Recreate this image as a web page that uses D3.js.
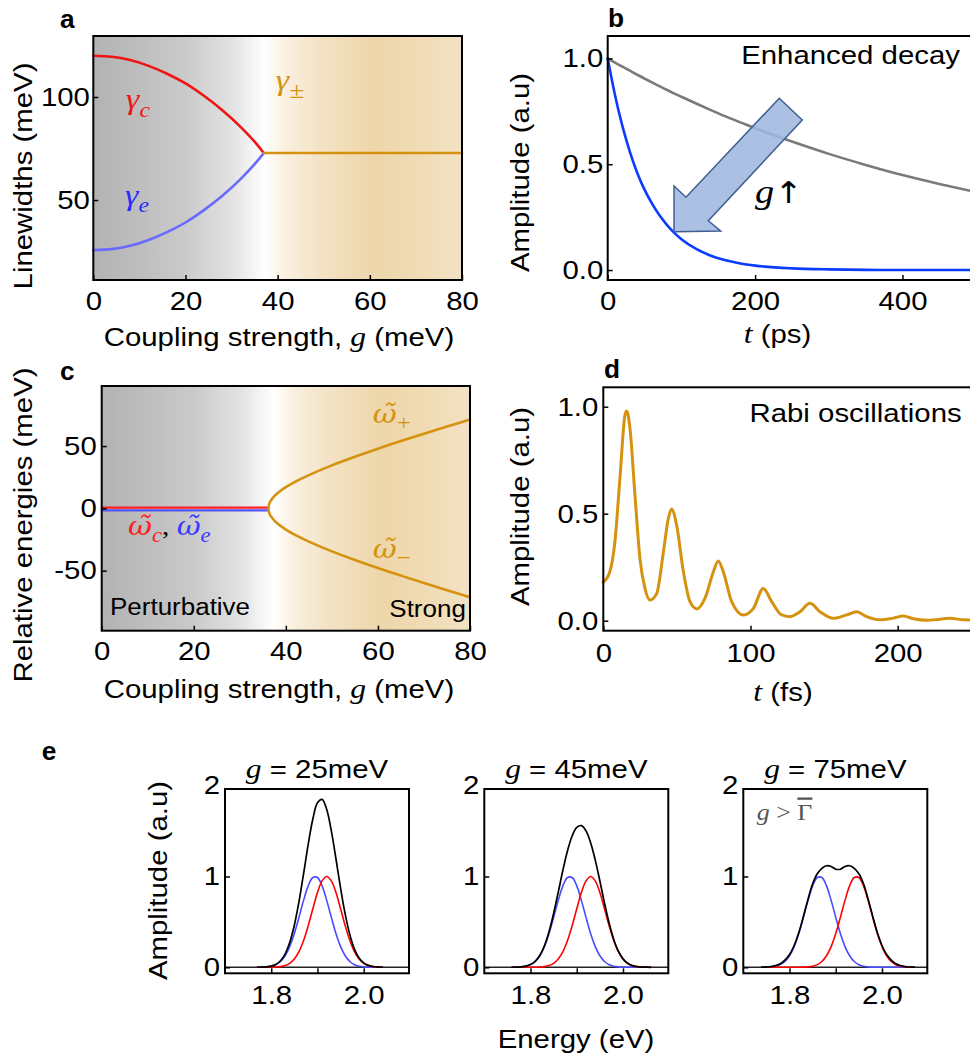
<!DOCTYPE html>
<html>
<head>
<meta charset="utf-8">
<script src="https://cdn.jsdelivr.net/npm/d3@7/dist/d3.min.js"></script>
<style>
html,body{margin:0;padding:0;background:#fff;}
svg{display:block;}
</style>
</head>
<body>
<svg id="fig" width="970" height="1060" xmlns="http://www.w3.org/2000/svg"></svg>
<script>
// ---------------- DATA ----------------
// Panel a: linewidths (meV) vs coupling strength g (meV)
const aGSplit   = [0, 4, 8, 12, 16, 20, 24, 28, 32, 35, 37];
const aGammaC   = [120, 119.5, 117.9, 115.1, 111.3, 106.6, 100.6, 93.6, 85.4, 78.3, 72.8];
const aGammaE   = [25.7, 26.2, 27.8, 30.6, 34.4, 39.1, 45.1, 52.1, 60.3, 67.4, 72.8];
const aGMerged  = [37, 80];
const aGammaPM  = [72.8, 72.8];
const aXTicks = [0, 20, 40, 60, 80];
const aYTicks = [50, 100];

// Panel b: enhanced decay, t (ps)
const bT       = [0, 10, 20, 30, 40, 50, 60, 70, 80, 90, 100, 120, 140, 160, 180, 200, 250, 300, 350, 400, 450, 500];
const bBare    = [1, 0.980, 0.961, 0.942, 0.923, 0.905, 0.887, 0.869, 0.852, 0.835, 0.819, 0.787, 0.756, 0.726, 0.698, 0.670, 0.607, 0.549, 0.497, 0.449, 0.407, 0.368];
const bCoupled = [1, 0.825, 0.68, 0.56, 0.46, 0.38, 0.315, 0.26, 0.215, 0.177, 0.146, 0.10, 0.068, 0.046, 0.031, 0.021, 0.008, 0.003, 0.001, 0, 0, 0];
const bArrowT  = [90, 90, 106.2, 232.8, 264, 136.5, 153.3];
const bArrowA  = [0.181, 0.397, 0.344, 0.812, 0.709, 0.233, 0.184];
const bXTicks = [0, 200, 400];
const bYTicks = [0, 0.5, 1.0];

// Panel c: relative energies (meV) vs g (meV)
const cGUnc     = [0, 36.2];
const cOmegaC   = [0.6, 0.6];
const cOmegaE   = [-1.6, -1.6];
const cGBranch  = [36.2, 36.5, 37, 37.5, 38, 39, 40, 42, 45, 50, 55, 60, 65, 70, 75, 80];
const cOmegaPlus  = [0, 4.7, 7.6, 9.8, 11.6, 14.5, 17, 21.3, 26.7, 34.5, 41.4, 47.9, 54, 59.9, 65.7, 71.3];
const cOmegaMinus = [0, -4.7, -7.6, -9.8, -11.6, -14.5, -17, -21.3, -26.7, -34.5, -41.4, -47.9, -54, -59.9, -65.7, -71.3];
const cXTicks = [0, 20, 40, 60, 80];
const cYTicks = [-50, 0, 50];

// Panel d: Rabi oscillations, t (fs)
const dT   = [0, 4.5, 7.9, 11.3, 14.7, 15.9, 18.1, 21.5, 24.9, 28.3, 31.7, 36.3, 40.8, 44.2, 46.4, 49.8, 54.4, 58.9, 63.6, 69.1, 74.8, 78.1, 81.5, 87.2, 95.1, 102, 108.7, 114.4, 121.2, 126.8, 133.6, 140.4, 147.2, 156.3, 165.3, 172.1, 178.9, 188, 197, 203.8, 210.6, 219.7, 228.8, 235.5, 244.6, 250];
const dAmp = [0.18, 0.23, 0.37, 0.665, 0.96, 0.98, 0.90, 0.587, 0.29, 0.151, 0.097, 0.128, 0.32, 0.478, 0.522, 0.447, 0.229, 0.089, 0.055, 0.105, 0.229, 0.279, 0.229, 0.089, 0.027, 0.058, 0.151, 0.089, 0.027, 0.019, 0.042, 0.081, 0.042, 0.011, 0.027, 0.042, 0.019, 0.004, 0.012, 0.022, 0.009, 0.002, 0.007, 0.011, 0.004, 0.003];
const dXTicks = [0, 100, 200];
const dYTicks = [0, 0.5, 1.0];

// Panel e: spectra, Energy (eV)
const eTitles = ["25meV", "45meV", "75meV"];
const eE1 = [1.77,1.78,1.79,1.80,1.81,1.82,1.83,1.84,1.85,1.86,1.87,1.88,1.89,1.90,1.91,1.92,1.93,1.94,1.95,1.96,1.97,1.98,1.99,2.00,2.01,2.02,2.03,2.04];
const eBlue1  = [0.0005,0.0016,0.0046,0.0122,0.0294,0.0641,0.127,0.228,0.372,0.550,0.737,0.896,0.988,0.988,0.896,0.737,0.550,0.372,0.228,0.127,0.064,0.029,0.012,0.005,0.002,0.001,0,0];
const eRed1   = [0,0.0001,0.0003,0.0009,0.0027,0.0076,0.0192,0.0439,0.0914,0.172,0.295,0.458,0.644,0.823,0.952,1,0.952,0.823,0.644,0.458,0.295,0.172,0.0914,0.0439,0.0192,0.0076,0.0027,0.0009];
const eBlack1 = [0.0005,0.0017,0.0049,0.0131,0.0321,0.0717,0.146,0.272,0.463,0.722,1.032,1.354,1.632,1.811,1.848,1.737,1.502,1.195,0.872,0.585,0.359,0.201,0.103,0.049,0.021,0.0086,0.0027,0.0009];
const eE2 = [1.76,1.77,1.78,1.79,1.80,1.81,1.82,1.83,1.84,1.85,1.86,1.87,1.88,1.89,1.90,1.91,1.92,1.93,1.94,1.95,1.96,1.97,1.98,1.99,2.00,2.01,2.02,2.03,2.04,2.05,2.06];
const eBlue2  = [0.0005,0.0016,0.0046,0.0122,0.0294,0.0641,0.127,0.228,0.372,0.550,0.737,0.896,0.988,0.988,0.896,0.737,0.550,0.372,0.228,0.127,0.064,0.029,0.012,0.005,0.002,0.0005,0,0,0,0,0];
const eRed2   = [0,0,0,0.0001,0.0003,0.0009,0.0027,0.0076,0.0192,0.0439,0.0914,0.172,0.295,0.458,0.644,0.823,0.952,1,0.952,0.823,0.644,0.458,0.295,0.172,0.0914,0.0439,0.0192,0.0076,0.0027,0.0009,0.0003];
const eBlack2 = [0.0005,0.0016,0.0046,0.0123,0.0297,0.065,0.130,0.236,0.391,0.594,0.828,1.068,1.283,1.446,1.540,1.560,1.502,1.372,1.180,0.950,0.708,0.487,0.307,0.177,0.093,0.044,0.019,0.0076,0.0027,0.0009,0.0003];
const eE3 = [1.74,1.75,1.76,1.77,1.78,1.79,1.80,1.81,1.82,1.83,1.84,1.85,1.86,1.87,1.88,1.89,1.90,1.91,1.92,1.93,1.94,1.95,1.96,1.97,1.98,1.99,2.00,2.01,2.02,2.03,2.04,2.05,2.06,2.07];
const eBlue3  = [0.0005,0.0016,0.0046,0.0122,0.0294,0.0641,0.127,0.228,0.372,0.550,0.737,0.896,0.988,0.988,0.896,0.737,0.550,0.372,0.228,0.127,0.064,0.029,0.012,0.005,0.002,0.0005,0,0,0,0,0,0,0,0];
const eRed3   = [0,0,0,0,0,0,0,0,0.0005,0.0016,0.0046,0.0122,0.0294,0.064,0.127,0.228,0.372,0.550,0.737,0.896,0.988,0.988,0.896,0.737,0.550,0.372,0.228,0.127,0.064,0.029,0.012,0.005,0.002,0.0005];
const eBlack3 = [0.001,0.003,0.008,0.02,0.04,0.08,0.14,0.24,0.38,0.56,0.75,0.92,1.03,1.09,1.118,1.11,1.08,1.08,1.11,1.118,1.09,1.03,0.92,0.75,0.56,0.38,0.24,0.14,0.08,0.04,0.02,0.008,0.003,0.001];
const eXTicks = [1.8, 1.9, 2.0];
const eYTicks = [0, 1, 2];

// background shading stops (perturbative -> strong)
const bgStops = [[0,"#b2b2b2"],[0.25,"#cacaca"],[0.38,"#e3e3e3"],[0.465,"#ffffff"],[0.52,"#faf0e0"],[0.62,"#f3e2c4"],[0.76,"#eed6aa"],[0.88,"#f0dbb4"],[1,"#f2e2c5"]];

// ---------------- STYLE / HELPERS ----------------
const SX = 1.13;
const SANS = '"Liberation Sans", Arial, Helvetica, sans-serif';
const SERIF = '"Liberation Serif", "Times New Roman", serif';
const MATH = '"DejaVu Serif", "Liberation Serif", serif';
const GOLD = "#d4920f";
const svg = d3.select("#fig");
const defs = svg.append("defs");

function makeGrad(id, stops){
  const g = defs.append("linearGradient").attr("id", id).attr("x1",0).attr("x2",1).attr("y1",0).attr("y2",0);
  stops.forEach(s => g.append("stop").attr("offset", s[0]).attr("stop-color", s[1]));
}
function T(x, y, o = {}){
  let tr = `translate(${x},${y})`;
  if (o.rot) tr += ` rotate(${o.rot})`;
  tr += ` scale(${o.sx || SX},1)`;
  return svg.append("text").attr("transform", tr).attr("text-anchor", o.anchor || "start")
    .style("font-family", o.family || SANS).style("font-size", (o.size || 26) + "px")
    .style("font-weight", o.weight || "normal").style("font-style", o.style || "normal")
    .attr("fill", o.fill || "#000");
}
function span(t, s, o = {}){
  const ts = t.append("tspan").text(s);
  if (o.family) ts.style("font-family", o.family);
  if (o.style) ts.style("font-style", o.style);
  if (o.size) ts.style("font-size", o.size + "px");
  if (o.fill) ts.attr("fill", o.fill);
  if (o.dy != null) ts.attr("dy", o.dy);
  if (o.deco) ts.style("text-decoration", o.deco);
  return ts;
}
function frame(f){
  svg.append("rect").attr("x", f.l).attr("y", f.t).attr("width", f.r - f.l).attr("height", f.b - f.t)
    .attr("fill", "none").attr("stroke", "#000").attr("stroke-width", 2);
}
function styleAxis(g){
  g.attr("font-size", null).attr("font-family", null);
  g.select(".domain").remove();
  g.selectAll(".tick line").attr("stroke", "#000").attr("stroke-width", 1.5);
  g.selectAll(".tick text").attr("transform", `scale(${SX},1)`).attr("fill", "#000")
    .style("font-family", SANS).style("font-size", "26px");
  return g;
}
function axisB(scale, f, vals, fmt, pad){
  return styleAxis(svg.append("g").attr("transform", `translate(0,${f.b})`)
    .call(d3.axisBottom(scale).tickValues(vals).tickFormat(fmt).tickSizeInner(-5).tickSizeOuter(0).tickPadding(pad)));
}
function axisL(scale, f, vals, fmt, pad){
  return styleAxis(svg.append("g").attr("transform", `translate(${f.l},0)`)
    .call(d3.axisLeft(scale).tickValues(vals).tickFormat(fmt).tickSizeInner(-5).tickSizeOuter(0).tickPadding(pad)));
}
function path(pts, color, w, curve){
  return svg.append("path").attr("d", d3.line().curve(curve || d3.curveMonotoneX)(pts))
    .attr("fill", "none").attr("stroke", color).attr("stroke-width", w)
    .attr("stroke-linejoin", "round").attr("stroke-linecap", "round");
}
// ω with combining tilde + subscript, as one text
function omegaSpans(t, sub, col, subItalic){
  span(t, "ω\u0303", {fill: col, family: MATH, style: "italic", size: 26});
  span(t, sub, {fill: col, family: SERIF, size: subItalic ? 20 : 22, dy: 7, style: subItalic ? "italic" : "normal"});
}
makeGrad("bg", bgStops);

// ---------------- PANEL A ----------------
const fa = {l: 93.3, r: 462, t: 36, b: 280};
const xa = d3.scaleLinear([0, 80], [fa.l, fa.r]);
const ya = d3.scaleLinear([11.2, 129.6], [fa.b, fa.t]);
svg.append("rect").attr("x", fa.l).attr("y", fa.t).attr("width", fa.r - fa.l).attr("height", fa.b - fa.t).attr("fill", "url(#bg)");
path(aGSplit.map((g, i) => [xa(g), ya(aGammaC[i])]), "#f01414", 2.6);
path(aGSplit.map((g, i) => [xa(g), ya(aGammaE[i])]), "#6a6aff", 2.6);
path(aGMerged.map((g, i) => [xa(g), ya(aGammaPM[i])]), GOLD, 2.6, d3.curveLinear);
axisB(xa, fa, aXTicks, d3.format("d"), 11.5);
axisL(ya, fa, aYTicks, d3.format("d"), 3);
frame(fa);
{ const t = T(xa(7.1), ya(94.2), {family: SERIF, style: "italic", size: 30, fill: "#f01414"}); span(t, "γ"); span(t, "c", {size: 21, dy: 8}); }
{ const t = T(xa(6.9), ya(47.6), {family: SERIF, style: "italic", size: 30, fill: "#2a2aff"}); span(t, "γ"); span(t, "e", {size: 21, dy: 7}); }
{ const t = T(xa(39.6), ya(103.6), {family: SERIF, style: "italic", size: 30, fill: GOLD}); span(t, "γ"); span(t, "±", {size: 24, dy: 8, style: "normal"}); }
T(60, 28, {weight: "bold", size: 25, sx: 1.05}).text("a");
{ const t = T(279, 346, {anchor: "middle"}); span(t, "Coupling strength, "); span(t, "g", {family: SERIF, style: "italic", size: 28}); span(t, " (meV)"); }
T(32, 176, {rot: -90, anchor: "middle"}).text("Linewidths (meV)");

// ---------------- PANEL B ----------------
const fb = {l: 607.7, r: 976.2, t: 36, b: 280};
const xb = d3.scaleLinear([0, 500], [fb.l, fb.r]);
const yb = d3.scaleLinear([-0.047, 1.106], [fb.b, fb.t]);
path(bT.map((t, i) => [xb(t), yb(bBare[i])]), "#7a7a7a", 2.6);
path(bT.map((t, i) => [xb(t), yb(bCoupled[i])]), "#0a3cff", 2.6);
svg.append("path").attr("d", d3.line()(bArrowT.map((t, i) => [xb(t), yb(bArrowA[i])])) + "Z")
  .attr("fill", "#9fb7df").attr("fill-opacity", 0.88).attr("stroke", "#3f5f93").attr("stroke-width", 1.5).attr("stroke-linejoin", "miter");
{ const t = T(xb(199.9), yb(0.317), {family: SERIF, size: 34}); span(t, "g", {style: "italic"}); span(t, "↑", {family: '"DejaVu Sans", sans-serif', size: 30, dy: 0}); }
T(xb(478), yb(0.974), {anchor: "end", size: 26}).text("Enhanced decay");
axisB(xb, fb, bXTicks, d3.format("d"), 11.5);
axisL(yb, fb, bYTicks, d3.format(".1f"), 3.9);
frame(fb);
T(608, 26.7, {weight: "bold", size: 25, sx: 1.05}).text("b");
{ const t = T(777.5, 343, {anchor: "middle"}); span(t, "t", {family: SERIF, style: "italic", size: 28}); span(t, " (ps)"); }
T(528.5, 172.5, {rot: -90, anchor: "middle"}).text("Amplitude (a.u)");

// ---------------- PANEL C ----------------
const fc = {l: 101.7, r: 470, t: 386, b: 630.7};
const xc = d3.scaleLinear([0, 80], [fc.l, fc.r]);
const yc = d3.scaleLinear([-98.2, 98.2], [fc.b, fc.t]);
svg.append("rect").attr("x", fc.l).attr("y", fc.t).attr("width", fc.r - fc.l).attr("height", fc.b - fc.t).attr("fill", "url(#bg)");
path(cGUnc.map((g, i) => [xc(g), yc(cOmegaC[i])]), "#ff2020", 2.3, d3.curveLinear);
path(cGUnc.map((g, i) => [xc(g), yc(cOmegaE[i])]), "#5555ff", 2.3, d3.curveLinear);
{
  const lower = cGBranch.map((g, i) => [xc(g), yc(cOmegaMinus[i])]).reverse();
  const upper = cGBranch.slice(1).map((g, i) => [xc(g), yc(cOmegaPlus[i + 1])]);
  path(lower.concat(upper), GOLD, 2.6, d3.curveCatmullRom);
}
axisB(xc, fc, cXTicks, d => String(d), 10.8);
axisL(yc, fc, cYTicks, d => String(d), 4.4);
frame(fc);
{ const t = T(xc(58.9), yc(68.5), {fill: GOLD}); omegaSpans(t, "+", GOLD, false); }
{ const t = T(xc(58.9), yc(-39.9), {fill: GOLD}); omegaSpans(t, "−", GOLD, false); }
{
  const t = T(xc(5.7), yc(-21.4));
  omegaSpans(t, "c", "#ff2020", true);
  span(t, ", ", {family: SERIF, size: 26, dy: -7, fill: "#000"});
  omegaSpans(t, "e", "#3a3aff", true);
}
T(xc(1.8), yc(-85.6), {size: 23}).text("Perturbative");
T(xc(79.1), yc(-87.2), {size: 23, anchor: "end"}).text("Strong");
T(60, 380, {weight: "bold", size: 25, sx: 1.05}).text("c");
{ const t = T(279, 698, {anchor: "middle"}); span(t, "Coupling strength, "); span(t, "g", {family: SERIF, style: "italic", size: 28}); span(t, " (meV)"); }
T(32, 525, {rot: -90, anchor: "middle"}).text("Relative energies (meV)");

// ---------------- PANEL D ----------------
const fd = {l: 603.3, r: 971.3, t: 387.3, b: 630.7};
const xd = d3.scaleLinear([0, 250], [fd.l, fd.r]);
const yd = d3.scaleLinear([-0.0467, 1.0907], [fd.b, fd.t]);
path(dT.map((t, i) => [xd(t), yd(dAmp[i])]), GOLD, 3);
T(xd(243.5), yd(0.930), {anchor: "end", size: 26}).text("Rabi oscillations");
axisB(xd, fd, dXTicks, d3.format("d"), 12.5);
axisL(yd, fd, dYTicks, d3.format(".1f"), 4.4);
frame(fd);
T(604, 378, {weight: "bold", size: 25, sx: 1.05}).text("d");
{ const t = T(783, 701, {anchor: "middle"}); span(t, "t", {family: SERIF, style: "italic", size: 28}); span(t, " (fs)"); }
T(528.5, 506.5, {rot: -90, anchor: "middle"}).text("Amplitude (a.u)");

// ---------------- PANEL E ----------------
const eLefts = [225, 484.3, 743.3];
const eEs = [eE1, eE2, eE3], eBl = [eBlue1, eBlue2, eBlue3], eRd = [eRed1, eRed2, eRed3], eBk = [eBlack1, eBlack2, eBlack3];
eLefts.forEach((l, k) => {
  const f = {l: l, r: l + 184, t: 789, b: 973.3};
  const x = d3.scaleLinear([1.7, 2.098], [f.l, f.r]);
  const y = d3.scaleLinear([-0.066, 1.963], [f.b, f.t]);
  svg.append("line").attr("x1", x(1.7)).attr("x2", x(2.098)).attr("y1", y(0)).attr("y2", y(0))
    .attr("stroke", "#222").attr("stroke-width", 1.5);
  const E = eEs[k];
  path(E.map((e, i) => [x(e), y(eBl[k][i])]), "#4a4aff", 1.6, d3.curveCatmullRom);
  path(E.map((e, i) => [x(e), y(eRd[k][i])]), "#ff0000", 1.6, d3.curveCatmullRom);
  path(E.map((e, i) => [x(e), y(eBk[k][i])]), "#000000", 1.7, d3.curveCatmullRom);
  axisB(x, f, eXTicks, d => d === 1.9 ? "" : d3.format(".1f")(d), 12.2);
  const gl = axisL(y, f, eYTicks, d3.format("d"), 4.4);
  gl.selectAll(".tick line").filter(d => d === 2).remove();
  frame(f);
  const tt = T((f.l + f.r) / 2, 778, {anchor: "middle"});
  span(tt, "g", {family: SERIF, style: "italic", size: 28}); span(tt, " = " + eTitles[k]);
  if (k === 2) {
    const t = T(x(1.729), y(1.622), {family: SERIF, size: 23, fill: "#555"});
    span(t, "g", {style: "italic"}); span(t, " > "); span(t, "Γ", {deco: "overline"});
  }
});
T(41.7, 760, {weight: "bold", size: 25, sx: 1.05}).text("e");
T(576, 1048, {anchor: "middle"}).text("Energy (eV)");
T(167, 880.5, {rot: -90, anchor: "middle"}).text("Amplitude (a.u)");
</script>
</body>
</html>
